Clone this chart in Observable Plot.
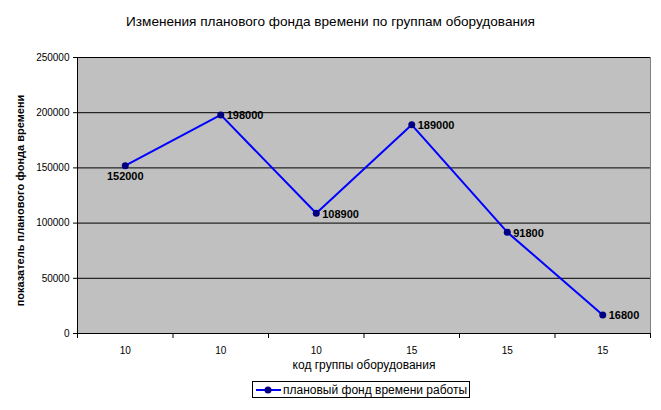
<!DOCTYPE html>
<html>
<head>
<meta charset="utf-8">
<script src="https://cdn.jsdelivr.net/npm/d3@7"></script>
<script src="https://cdn.jsdelivr.net/npm/@observablehq/plot@0.6"></script>
<style>
  body { margin: 0; background: #fff; font-family: "Liberation Sans", Arial, sans-serif; }
  #wrap { position: relative; width: 661px; height: 410px; }
  #title { position: absolute; left: 0; width: 661px; top: 14px; text-align: center; font-size: 13.6px; color: #000; }
  #legend { position: absolute; left: 252px; top: 381px; width: 218px; height: 17px; border: 1px solid #000; box-sizing: border-box; font-size: 12px; display: flex; align-items: center; }
  #legend svg { margin-left: 3px; margin-right: 2px; }
</style>
</head>
<body>
<div id="wrap">
  <div id="chart"></div>
  <div id="title">Изменения планового фонда времени по группам оборудования</div>
  <div id="legend"><svg width="25" height="10"><line x1="0" y1="5" x2="25" y2="5" stroke="#0000ff" stroke-width="2"/><circle cx="12" cy="5" r="3.5" fill="#000080"/></svg><span>плановый фонд времени работы</span></div>
</div>
<script>
const codes = ["10", "10", "10", "15", "15", "15"];
const values = [152000, 198000, 108900, 189000, 91800, 16800];
const yTicks = [0, 50000, 100000, 150000, 200000, 250000];
const xTitle = "код группы оборудования";
const yTitle = "показатель планового фонда времени";

const data = values.map((v, i) => ({i, pos: i + 0.5, v, code: codes[i]}));
const bounds = d3.range(0, codes.length + 1);
const centers = data.map(d => d.pos);

const chart = Plot.plot({
  width: 661,
  height: 410,
  marginLeft: 77,
  marginRight: 11,
  marginTop: 57,
  marginBottom: 77,
  style: {fontFamily: "'Liberation Sans', Arial, sans-serif", fontSize: "10px", color: "#000", background: "transparent"},
  x: {domain: [0, codes.length], axis: null},
  y: {domain: [0, 250000], axis: null},
  marks: [
    Plot.frame({fill: "#c0c0c0", stroke: "#808080"}),
    Plot.ruleY(yTicks.slice(1), {stroke: "#000", strokeWidth: 1}),
    Plot.ruleX([0], {stroke: "#000"}),
    Plot.ruleY([0], {stroke: "#000"}),
    Plot.axisX(bounds, {tickSize: 5, tickFormat: () => "", stroke: "#000", label: null}),
    Plot.axisX(centers, {tickSize: 0, tickPadding: 13, tickFormat: d => codes[Math.floor(d)], fontSize: 10, label: null}),
    Plot.text([xTitle], {frameAnchor: "bottom", dy: 35, fontSize: 12, fill: "#000"}),
    Plot.axisY(yTicks, {tickSize: 4, tickPadding: 4, stroke: "#000", tickFormat: d => String(d), fontSize: 10, label: null}),
    Plot.text([yTitle], {frameAnchor: "left", dx: -57, dy: 5, rotate: -90, textAnchor: "middle", fontSize: 11, fontWeight: "bold", fill: "#000"}),
    Plot.line(data, {x: "pos", y: "v", stroke: "#0000ff", strokeWidth: 2}),
    Plot.dot(data, {x: "pos", y: "v", r: 3.5, fill: "#000080", stroke: "none"}),
    Plot.text(data.filter(d => d.i === 0), {x: "pos", y: "v", text: d => String(d.v), dy: 11, fontWeight: "bold", fontSize: 11, fill: "#000"}),
    Plot.text(data.filter(d => d.i !== 0), {x: "pos", y: "v", text: d => String(d.v), dx: 6, dy: 1, textAnchor: "start", fontWeight: "bold", fontSize: 11, fill: "#000"})
  ]
});
document.getElementById("chart").appendChild(chart);
</script>
</body>
</html>
